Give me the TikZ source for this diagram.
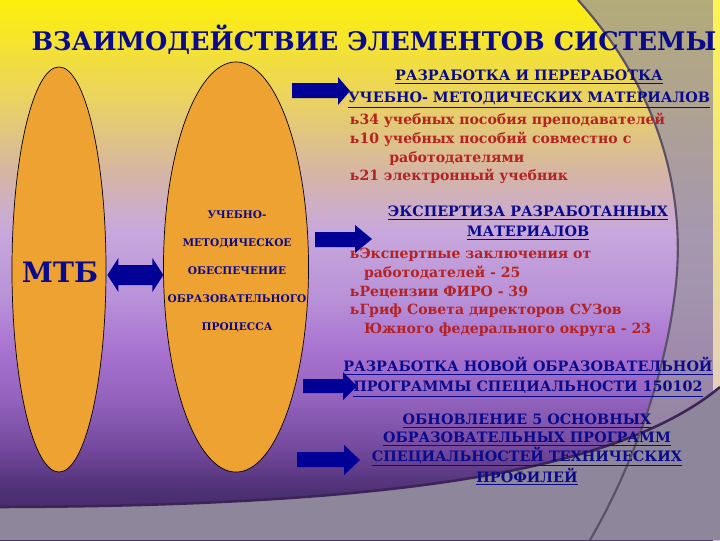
\documentclass[tikz,border=0pt]{standalone}
\usepackage{fontspec}
\setmainfont{DejaVu Serif}
\usetikzlibrary{shapes.geometric}

\definecolor{navyink}{HTML}{0A0A8C}
\definecolor{redink}{HTML}{B42222}
\definecolor{ovalorange}{HTML}{EEA232}
\definecolor{arrowblue}{HTML}{000096}
\definecolor{bgA}{HTML}{FCF00A}
\definecolor{bgB}{HTML}{EAD262}
\definecolor{bgC}{HTML}{D6B6A2}
\definecolor{bgD}{HTML}{C8A8DC}
\definecolor{bgE}{HTML}{B890D8}
\definecolor{bgF}{HTML}{A872D0}
\definecolor{bgG}{HTML}{9262BC}
\definecolor{bgH}{HTML}{72489C}
\definecolor{bgI}{HTML}{4E3074}
\definecolor{bgJ}{HTML}{3E2460}
\definecolor{greyside}{HTML}{9C94A0}
\definecolor{greyband}{HTML}{8E869A}
\definecolor{edgedark}{HTML}{3A2458}
\definecolor{arcline}{HTML}{5A5068}

\tikzset{
  oval/.style={ellipse, draw=black, fill=ovalorange, line width=0.5pt, inner sep=0pt},
  headline/.style={text=navyink, font=\bfseries\fontsize{10.2}{14.2}\selectfont, align=center},
  itemline/.style={text=redink, font=\bfseries\fontsize{10}{13.3}\selectfont, align=left, anchor=west},
  ovaltext/.style={text=navyink, font=\bfseries\fontsize{7.5}{20}\selectfont, align=center},
}

\begin{document}
\begin{tikzpicture}[x=0.025cm, y=-0.025cm]
  \useasboundingbox (0,0) rectangle (720,540);
  % background
  \foreach \ya/\yb/\ca/\cb in {0/100/bgA/bgB, 100/170/bgB/bgC, 170/230/bgC/bgD, 230/300/bgD/bgE,
      300/350/bgE/bgF, 350/400/bgF/bgG, 400/450/bgG/bgH, 450/490/bgH/bgI, 490/540/bgI/bgJ}
    \shade[top color=\ca, bottom color=\cb] (0,\ya) rectangle (720,\yb+1);
  \fill[greyside, fill opacity=0.75] (578,0) .. controls (655,85) and (690,190) .. (674,300)
    .. controls (662,390) and (625,480) .. (590,540) -- (713,540) -- (713,0) -- cycle;
  \shade[top color=bgA!70!white, bottom color=bgD!70!white] (713,0) rectangle (720,540);
  \fill[greyband] (0,507) .. controls (400,506) and (620,470) .. (720,387) -- (720,540) -- (0,540) -- cycle;
  \draw[edgedark, line width=1.8pt] (0,507) .. controls (400,506) and (620,470) .. (720,387);
  \draw[arcline, line width=1.5pt] (578,0) .. controls (655,85) and (690,190) .. (674,300)
    .. controls (662,390) and (625,480) .. (590,540);

  \node[text=navyink, font=\bfseries\fontsize{18.2}{22}\selectfont] (title) at (374,40) {ВЗАИМОДЕЙСТВИЕ ЭЛЕМЕНТОВ СИСТЕМЫ};

  \node[oval, minimum width=2.35cm, minimum height=10.125cm] (mtbOval) at (59,269.5) {};
  \node[oval, minimum width=3.625cm, minimum height=10.25cm] (umpOval) at (236,267) {};
  \node[text=navyink, font=\bfseries\fontsize{20}{24}\selectfont] (mtbText) at (60,272) {МТБ};
  \node[ovaltext] (umpText) at (237,271.5) {УЧЕБНО-\\МЕТОДИЧЕСКОЕ\\ОБЕСПЕЧЕНИЕ\\ОБРАЗОВАТЕЛЬНОГО\\ПРОЦЕССА};

  \fill[arrowblue, shift={(mtbOval.east)}] (1,5.5) -- (12,-11.5) -- (12,-4.5) -- (46,-4.5) -- (46,-11.5)
    -- (57,5.5) -- (46,22.5) -- (46,15.5) -- (12,15.5) -- (12,22.5) -- cycle;
  \fill[arrowblue] (292,83) -- (338,83) -- (338,77) -- (350,91) -- (338,105) -- (338,98) -- (292,98) -- cycle;
  \fill[arrowblue] (315,232) -- (355,232) -- (355,225) -- (372,239) -- (355,253) -- (355,247) -- (315,247) -- cycle;
  \fill[arrowblue] (303,379) -- (343,379) -- (343,372) -- (357,386) -- (343,400) -- (343,393) -- (303,393) -- cycle;
  \fill[arrowblue] (297,452) -- (344,452) -- (344,445) -- (360,460) -- (344,475) -- (344,467) -- (297,467) -- cycle;

  \node[headline, font=\bfseries\fontsize{10.2}{15.6}\selectfont] (devHead) at (529,89)
    {\underline{РАЗРАБОТКА И ПЕРЕРАБОТКА}\\\underline{УЧЕБНО- МЕТОДИЧЕСКИХ МАТЕРИАЛОВ}};
  \node[itemline] (devList) at (345,148.5) {ь34 учебных пособия преподавателей\\ь10 учебных пособий совместно с\\
    \hspace*{28pt}работодателями\\ь21 электронный учебник};
  \node[headline] (expHead) at (528,223) {\underline{ЭКСПЕРТИЗА РАЗРАБОТАННЫХ}\\\underline{МАТЕРИАЛОВ}};
  \node[itemline] (expList) at (345,292.5) {ьЭкспертные заключения от\\\hspace*{10pt}работодателей - 25\\
    ьРецензии ФИРО - 39\\ьГриф Совета директоров СУЗов\\\hspace*{10pt}Южного федерального округа - 23};
  \node[headline] (newHead) at (528,377) {\underline{РАЗРАБОТКА НОВОЙ ОБРАЗОВАТЕЛЬНОЙ}\\\underline{ПРОГРАММЫ СПЕЦИАЛЬНОСТИ 150102}};
  \node[headline, font=\bfseries\fontsize{10.2}{13}\selectfont] (updHead) at (527,449.5) {\underline{ОБНОВЛЕНИЕ 5 ОСНОВНЫХ}\\
    \underline{ОБРАЗОВАТЕЛЬНЫХ ПРОГРАММ}\\\underline{СПЕЦИАЛЬНОСТЕЙ ТЕХНИЧЕСКИХ}\\\underline{ПРОФИЛЕЙ}};
\end{tikzpicture}
\end{document}
